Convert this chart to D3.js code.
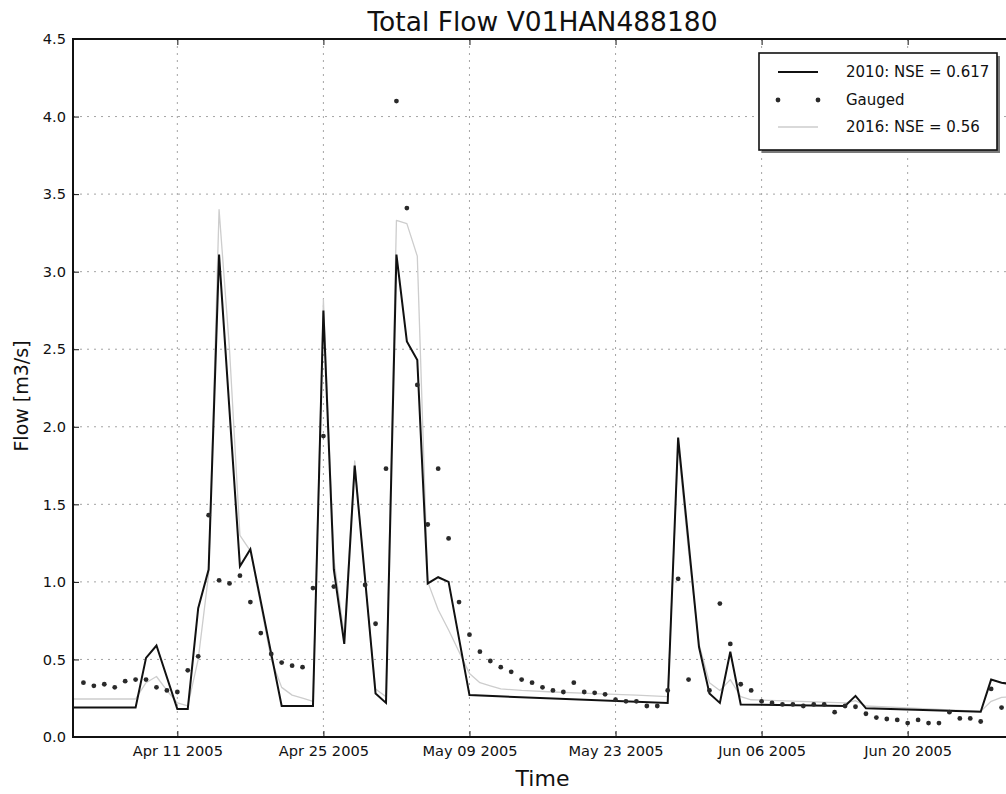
<!DOCTYPE html>
<html><head><meta charset="utf-8">
<script src="https://cdn.jsdelivr.net/npm/d3@7"></script>
<style>
body{margin:0;background:#fff}
svg{display:block}
text{font-family:"DejaVu Sans",sans-serif;fill:#111}
</style>
</head><body>
<svg id="chart" width="1006" height="794"></svg>
<script>
// ---------------- data ----------------
const chartTitle = "Total Flow V01HAN488180";
const xLabel = "Time";
const yLabel = "Flow [m3/s]";

const xTickDates = ["2005-04-11","2005-04-25","2005-05-09","2005-05-23","2005-06-06","2005-06-20"];
const yTickValues = [0,0.5,1.0,1.5,2.0,2.5,3.0,3.5,4.0,4.5];

const seriesNames = ["2010: NSE = 0.617","Gauged","2016: NSE = 0.56"];

const sim2010Dates = ["2005-04-01","2005-04-07","2005-04-08","2005-04-09","2005-04-11","2005-04-12","2005-04-13","2005-04-14","2005-04-15","2005-04-17","2005-04-18","2005-04-21","2005-04-24","2005-04-25","2005-04-26","2005-04-27","2005-04-28","2005-04-30","2005-05-01","2005-05-02","2005-05-03","2005-05-04","2005-05-05","2005-05-06","2005-05-07","2005-05-09","2005-05-28","2005-05-29","2005-05-31","2005-06-01","2005-06-02","2005-06-03","2005-06-04","2005-06-14","2005-06-15","2005-06-16","2005-06-27","2005-06-28","2005-06-29","2005-06-30"];
const sim2010Values = [0.19,0.19,0.51,0.59,0.18,0.18,0.83,1.08,3.11,1.10,1.21,0.20,0.20,2.75,1.08,0.60,1.75,0.28,0.22,3.11,2.55,2.43,0.99,1.03,1.00,0.27,0.22,1.93,0.58,0.28,0.22,0.55,0.21,0.20,0.265,0.185,0.163,0.37,0.35,0.34];

const sim2016Dates = ["2005-04-01","2005-04-07","2005-04-08","2005-04-09","2005-04-10","2005-04-11","2005-04-12","2005-04-13","2005-04-14","2005-04-15","2005-04-16","2005-04-17","2005-04-18","2005-04-19","2005-04-20","2005-04-21","2005-04-22","2005-04-23","2005-04-24","2005-04-25","2005-04-26","2005-04-27","2005-04-28","2005-04-29","2005-04-30","2005-05-01","2005-05-02","2005-05-03","2005-05-04","2005-05-05","2005-05-06","2005-05-07","2005-05-08","2005-05-09","2005-05-10","2005-05-11","2005-05-12","2005-05-14","2005-05-17","2005-05-21","2005-05-25","2005-05-28","2005-05-29","2005-05-30","2005-05-31","2005-06-01","2005-06-02","2005-06-03","2005-06-04","2005-06-05","2005-06-14","2005-06-15","2005-06-16","2005-06-27","2005-06-28","2005-06-29","2005-06-30"];
const sim2016Values = [0.245,0.245,0.35,0.39,0.30,0.22,0.20,0.50,1.05,3.40,2.50,1.30,1.20,0.85,0.50,0.32,0.27,0.25,0.23,2.82,1.15,0.65,1.78,1.00,0.31,0.26,3.33,3.31,3.10,1.00,0.82,0.69,0.55,0.41,0.35,0.33,0.31,0.30,0.29,0.28,0.27,0.26,1.88,1.20,0.60,0.35,0.30,0.37,0.26,0.24,0.22,0.235,0.20,0.165,0.23,0.255,0.26];

const gaugedDates = ["2005-04-02","2005-04-03","2005-04-04","2005-04-05","2005-04-06","2005-04-07","2005-04-08","2005-04-09","2005-04-10","2005-04-11","2005-04-12","2005-04-13","2005-04-14","2005-04-15","2005-04-16","2005-04-17","2005-04-18","2005-04-19","2005-04-20","2005-04-21","2005-04-22","2005-04-23","2005-04-24","2005-04-25","2005-04-26","2005-04-29","2005-04-30","2005-05-01","2005-05-02","2005-05-03","2005-05-04","2005-05-05","2005-05-06","2005-05-07","2005-05-08","2005-05-09","2005-05-10","2005-05-11","2005-05-12","2005-05-13","2005-05-14","2005-05-15","2005-05-16","2005-05-17","2005-05-18","2005-05-19","2005-05-20","2005-05-21","2005-05-22","2005-05-23","2005-05-24","2005-05-25","2005-05-26","2005-05-27","2005-05-28","2005-05-29","2005-05-30","2005-06-01","2005-06-02","2005-06-03","2005-06-04","2005-06-05","2005-06-06","2005-06-07","2005-06-08","2005-06-09","2005-06-10","2005-06-11","2005-06-12","2005-06-13","2005-06-14","2005-06-15","2005-06-16","2005-06-17","2005-06-18","2005-06-19","2005-06-20","2005-06-21","2005-06-22","2005-06-23","2005-06-24","2005-06-25","2005-06-26","2005-06-27","2005-06-28","2005-06-29"];
const gaugedValues = [0.35,0.33,0.34,0.32,0.36,0.37,0.37,0.32,0.30,0.29,0.43,0.52,1.43,1.01,0.99,1.04,0.87,0.67,0.535,0.48,0.46,0.45,0.96,1.94,0.97,0.98,0.73,1.73,4.10,3.41,2.27,1.37,1.73,1.28,0.87,0.66,0.55,0.49,0.45,0.42,0.37,0.35,0.32,0.30,0.29,0.35,0.29,0.285,0.275,0.24,0.23,0.23,0.20,0.20,0.30,1.02,0.37,0.30,0.86,0.60,0.34,0.30,0.23,0.22,0.21,0.21,0.20,0.21,0.21,0.16,0.20,0.195,0.15,0.125,0.116,0.11,0.09,0.11,0.09,0.09,0.16,0.12,0.12,0.10,0.31,0.19];

// ---------------- chart ----------------
const parse = d3.utcParse("%Y-%m-%d");
const svg = d3.select("#chart");
const L = 73, R = 1012, T = 39, B = 737;

const x = d3.scaleUtc().domain([parse("2005-04-01"), parse("2005-06-30")]).range([L, R]);
const y = d3.scaleLinear().domain([0, 4.5]).range([B, T]);

const sim2010 = sim2010Dates.map((d,i)=>({date:parse(d), v:sim2010Values[i]}));
const sim2016 = sim2016Dates.map((d,i)=>({date:parse(d), v:sim2016Values[i]}));
const gauged = gaugedDates.map((d,i)=>({date:parse(d), v:gaugedValues[i]}));
const xTicks = xTickDates.map(parse);

svg.append("defs").append("clipPath").attr("id","plotclip")
  .append("rect").attr("x",L).attr("y",T).attr("width",R-L).attr("height",B-T);

// grid
const grid = svg.append("g").attr("stroke","#9a9a9a").attr("stroke-width",0.9).attr("stroke-dasharray","2,5");
grid.selectAll("line.gx").data(xTicks).join("line")
  .attr("x1",d=>x(d)).attr("x2",d=>x(d)).attr("y1",T).attr("y2",B);
grid.selectAll("line.gy").data(yTickValues.slice(1,-1)).join("line")
  .attr("x1",L).attr("x2",R).attr("y1",d=>y(d)).attr("y2",d=>y(d));

// series
const plot = svg.append("g").attr("clip-path","url(#plotclip)");
const line = d3.line().x(d=>x(d.date)).y(d=>y(d.v));
plot.append("path").datum(sim2016).attr("d",line)
  .attr("fill","none").attr("stroke","#cdcdcd").attr("stroke-width",1.3).attr("stroke-linejoin","round");
plot.append("path").datum(sim2010).attr("d",line)
  .attr("fill","none").attr("stroke","#111").attr("stroke-width",2).attr("stroke-linejoin","miter");
plot.selectAll("circle.g").data(gauged).join("circle")
  .attr("cx",d=>x(d.date)).attr("cy",d=>y(d.v)).attr("r",2.4)
  .attr("fill","#2a2a2a");

// axes
const fmt = d3.utcFormat("%b %d %Y");
const gx = svg.append("g").attr("transform",`translate(0,${B})`)
  .call(d3.axisBottom(x).tickValues(xTicks).tickFormat(fmt).tickSizeInner(-6).tickSizeOuter(0).tickPadding(9));
const gxt = svg.append("g").attr("transform",`translate(0,${T})`)
  .call(d3.axisTop(x).tickValues(xTicks).tickFormat("").tickSizeInner(-6).tickSizeOuter(0));
const gy = svg.append("g").attr("transform",`translate(${L},0)`)
  .call(d3.axisLeft(y).tickValues(yTickValues).tickFormat(d3.format(".1f")).tickSizeInner(-6).tickSizeOuter(0).tickPadding(7));
const gyr = svg.append("g").attr("transform",`translate(${R},0)`)
  .call(d3.axisRight(y).tickValues(yTickValues).tickFormat("").tickSizeInner(-6).tickSizeOuter(0));
[gx,gxt,gy,gyr].forEach(g=>{
  g.select(".domain").remove();
  g.selectAll(".tick line").attr("stroke","#111").attr("stroke-width",1);
  g.selectAll(".tick text").attr("font-size",14.6).attr("fill","#111").attr("font-family","DejaVu Sans");
});

// spines
svg.append("rect").attr("x",L).attr("y",T).attr("width",R-L).attr("height",B-T)
  .attr("fill","none").attr("stroke","#111").attr("stroke-width",2);

// labels
svg.append("text").attr("x",(L+R)/2).attr("y",31).attr("text-anchor","middle")
  .attr("font-size",26.5).text(chartTitle);
svg.append("text").attr("x",(L+R)/2).attr("y",786).attr("text-anchor","middle")
  .attr("font-size",22).text(xLabel);
svg.append("text").attr("transform",`translate(28,${(T+B)/2 + 8}) rotate(-90)`).attr("text-anchor","middle")
  .attr("font-size",19).text(yLabel);

// legend
const lg = svg.append("g");
const lx = 759, ly = 53, lw = 238, lh = 97;
lg.append("rect").attr("x",lx+3).attr("y",ly+3).attr("width",lw).attr("height",lh).attr("fill","#7a7a7a");
lg.append("rect").attr("x",lx).attr("y",ly).attr("width",lw).attr("height",lh)
  .attr("fill","#fff").attr("stroke","#111").attr("stroke-width",1.6);
const rowY = [72, 100, 127];
lg.append("line").attr("x1",778).attr("x2",818).attr("y1",rowY[0]).attr("y2",rowY[0])
  .attr("stroke","#111").attr("stroke-width",2);
lg.selectAll("circle").data([778,818]).join("circle")
  .attr("cx",d=>d).attr("cy",rowY[1]).attr("r",2.4).attr("fill","#2a2a2a");
lg.append("line").attr("x1",778).attr("x2",818).attr("y1",rowY[2]).attr("y2",rowY[2])
  .attr("stroke","#cdcdcd").attr("stroke-width",1.3);
lg.selectAll("text").data(seriesNames).join("text")
  .attr("x",846).attr("y",(d,i)=>rowY[i]).attr("dy","0.35em")
  .attr("font-size",15).text(d=>d);
</script>
</body></html>
